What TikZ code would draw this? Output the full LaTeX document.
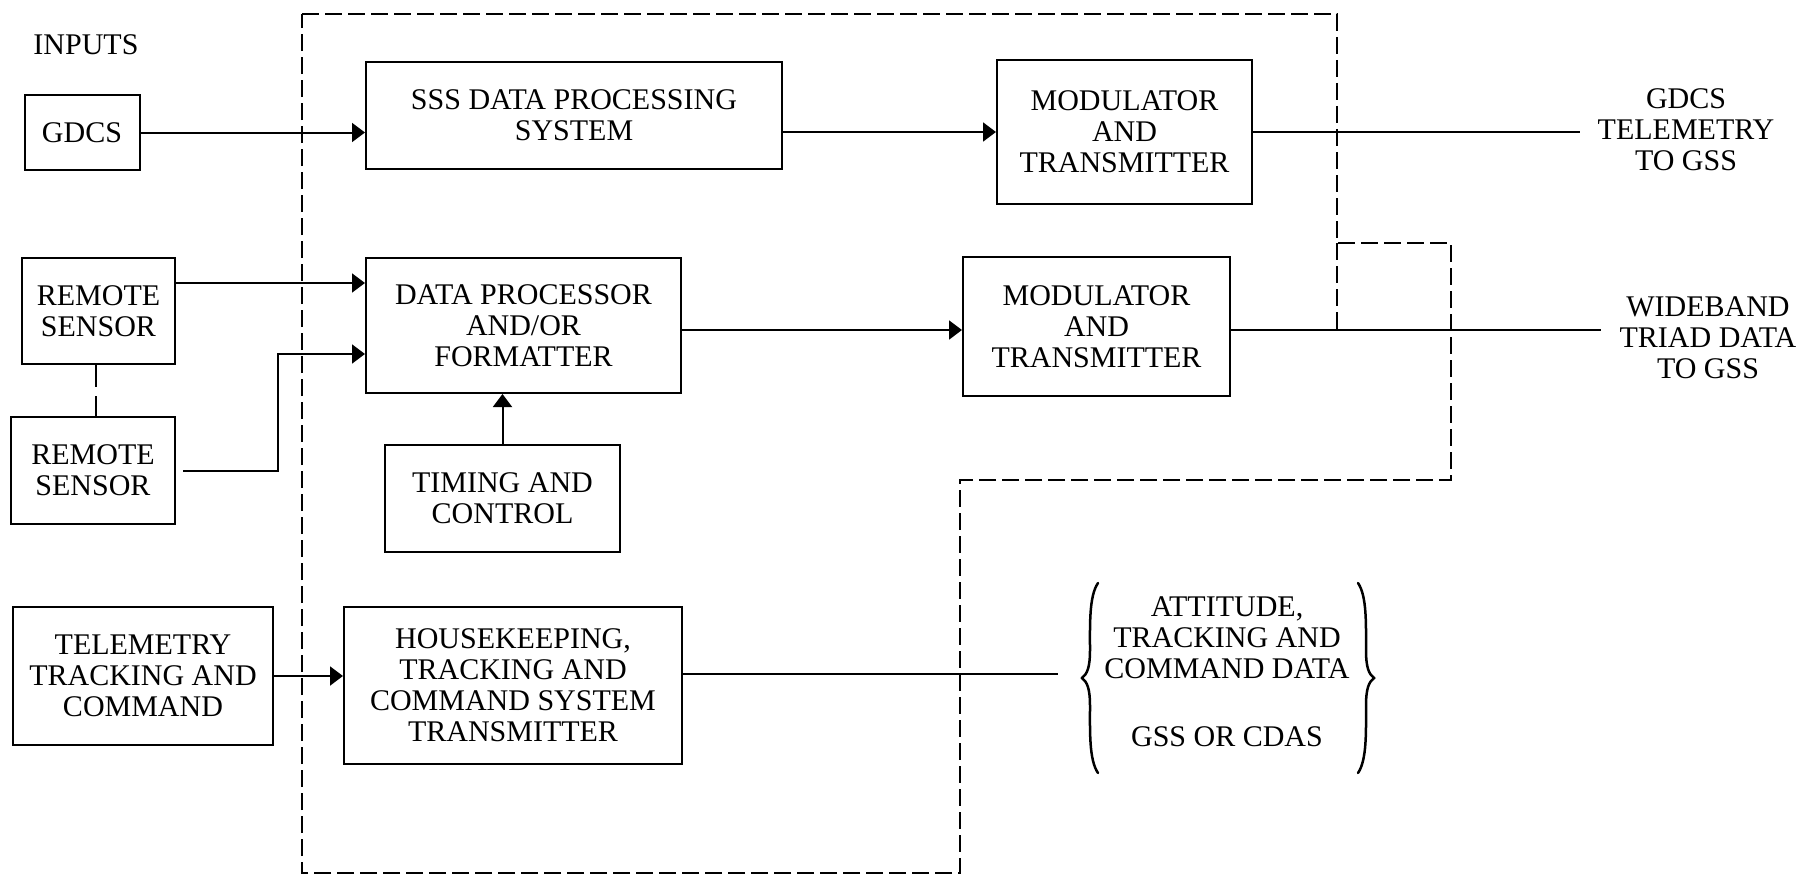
\documentclass[tikz,border=0pt]{standalone}
\usepackage{fontspec}
\setmainfont{Liberation Serif}
\usetikzlibrary{arrows.meta}
\begin{document}
\begin{tikzpicture}[x=1pt,y=-1pt,
  blk/.style={draw, line width=2pt, align=center, inner sep=0pt,
              font=\fontsize{30}{31}\selectfont},
  lbl/.style={align=center, inner sep=0pt, font=\fontsize{30}{31}\selectfont},
  wire/.style={line width=2pt},
  arr/.style={wire, -{Triangle[length=13pt,width=19pt]}},
  bound/.style={line width=2.4pt, dash pattern=on 17pt off 6pt},
  link/.style={line width=2pt, dash pattern=on 22pt off 9pt},
  brc/.style={line width=2.5pt, line cap=round}]
\useasboundingbox (0,0) rectangle (1816,875);

% inputs
\node[lbl] (inputs) at (86,45) {INPUTS};
\node[blk, minimum width=115pt, minimum height=74pt] (gdcs) at (82,132.5) {GDCS};
\node[blk, minimum width=153pt, minimum height=106pt] (rs1) at (98.5,311) {REMOTE\\SENSOR};
\node[blk, minimum width=164pt, minimum height=107pt] (rs2) at (93,470.5) {REMOTE\\SENSOR};
\node[blk, minimum width=260pt, minimum height=138pt] (ttc) at (143,676) {TELEMETRY\\TRACKING AND\\COMMAND};

% on-board processing
\node[blk, minimum width=416pt, minimum height=107pt] (sss) at (574,115.5) {SSS DATA PROCESSING\\SYSTEM};
\node[blk, minimum width=315pt, minimum height=135pt] (dp) at (523.5,325.5) {DATA PROCESSOR\\AND/OR\\FORMATTER};
\node[blk, minimum width=235pt, minimum height=107pt] (tim) at (502.5,498.5) {TIMING AND\\CONTROL};
\node[blk, minimum width=338pt, minimum height=157pt] (hk) at (513,685.5) {HOUSEKEEPING,\\TRACKING AND\\COMMAND SYSTEM\\TRANSMITTER};
\node[blk, minimum width=255pt, minimum height=144pt] (mod1) at (1124.5,132) {MODULATOR\\AND\\TRANSMITTER};
\node[blk, minimum width=267pt, minimum height=139pt] (mod2) at (1096.5,326.5) {MODULATOR\\AND\\TRANSMITTER};

% outputs
\node[lbl] (out1) at (1686,130) {GDCS\\TELEMETRY\\TO GSS};
\node[lbl] (out2) at (1708,338) {WIDEBAND\\TRIAD DATA\\TO GSS};
\node[lbl, anchor=north] (out3) at (1227,596) {ATTITUDE,\\TRACKING AND\\COMMAND DATA\\[37pt]GSS OR CDAS};

% helper coordinates
\coordinate (yA) at (0,283);
\coordinate (yB) at (0,354);
\coordinate (yC) at (0,330);
\coordinate (bend) at (278,471);
\coordinate (x96) at (96,0);
\coordinate (o1) at (1580,132);
\coordinate (o2) at (1601,330);
\coordinate (o3) at (1058,674);

% signal flow
\draw[arr] (gdcs.east) -- (sss.west |- gdcs.east);
\draw[arr] (sss.east |- mod1.west) -- (mod1.west);
\draw[wire] (mod1.east) -- (o1);
\draw[arr] (rs1.east |- yA) -- (dp.west |- yA);
\draw[arr] ([xshift=7pt]rs2.east |- bend) -- (bend) |- (dp.west |- yB);
\draw[link] (rs1.south -| x96) -- (rs2.north -| x96);
\draw[arr] (tim.north) -- (dp.south -| tim.north);
\draw[arr] (dp.east |- yC) -- (mod2.west |- yC);
\draw[wire] (mod2.east |- yC) -- (o2);
\draw[arr] (ttc.east) -- (hk.west |- ttc.east);
\draw[wire] (hk.east |- o3) -- (o3);

% spacecraft boundary
\draw[bound] (302,14) -- (1337,14) -- (1337,243) -- (1451,243) -- (1451,480)
  -- (960,480) -- (960,873) -- (302,873) -- cycle;
\draw[bound] (1337,243) -- (1337,331);

% braces round the last output
\draw[brc] (1098,583) .. controls (1089,596) and (1090,625) .. (1090,650)
  .. controls (1090,668) and (1087,674) .. (1082,678)
  .. controls (1087,682) and (1090,688) .. (1090,706)
  .. controls (1090,731) and (1089,760) .. (1098,773);
\draw[brc] (1358,583) .. controls (1367,596) and (1366,625) .. (1366,650)
  .. controls (1366,668) and (1369,674) .. (1374,678)
  .. controls (1369,682) and (1366,688) .. (1366,706)
  .. controls (1366,731) and (1367,760) .. (1358,773);
\end{tikzpicture}
\end{document}
